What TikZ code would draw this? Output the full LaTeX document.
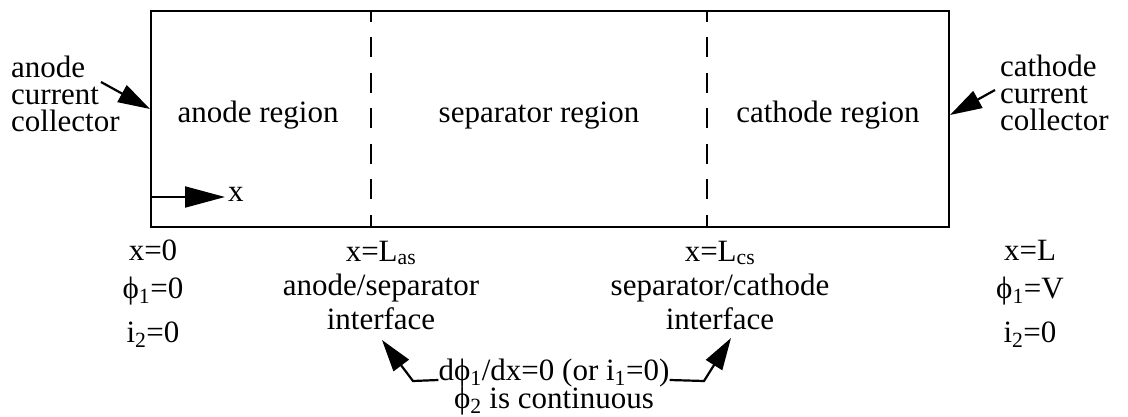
\documentclass[tikz,border=0pt]{standalone}
\usepackage{fontspec}
\setmainfont{Liberation Serif}
\usetikzlibrary{arrows.meta}

\begin{document}
\begin{tikzpicture}[x=1pt, y=-1pt,
  every node/.style={font=\fontsize{31}{27}\selectfont, inner sep=0pt},
  wall/.style={draw, line width=2pt},
  divider/.style={line width=2pt, dash pattern=on 20pt off 15.5pt, dash phase=9pt},
  pointer/.style={line width=2.2pt, -{Triangle[length=32pt,width=19pt]}},
  txt/.style={anchor=base}]

\useasboundingbox (0,0) rectangle (1128,417);

% Cell
\node[wall, minimum width=798pt, minimum height=216pt] (cell) at (550,119) {};

% Interfaces
\draw[divider] (371,11) -- (371,227);
\draw[divider] (707,11) -- (707,227);

% Regions
\node[txt] (anode) at (258,123) {anode region};
\node[txt] (sep) at (539,123) {separator region};
\node[txt] (cathode) at (828,123) {cathode region};

% x axis
\node[anchor=base west] (xlab) at (228,202) {x};
\coordinate (origin) at (151,197);
\draw[line width=2pt, -{Triangle[length=40pt,width=21pt]}, shorten >=3pt] (origin) -- (origin -| xlab.west);

% Current collectors
\node[anchor=north west, align=left] (acc) at (11,56) {anode\\current\\collector};
\node[anchor=north west, align=left] (ccc) at (1000,55) {cathode\\current\\collector};
\coordinate (acctail) at (101,82);
\coordinate (ccctail) at (995,90);
\draw[pointer] (acctail) -- ([yshift=10pt]cell.west);
\draw[pointer] (ccctail) -- ([yshift=4pt]cell.east);

% Boundary at x=0
\node[txt] (x0) at (153,260) {x=0};
\node[txt] (phi0) at (153,298) {ϕ\textsubscript{1}=0};
\node[txt] (i0) at (153,342) {i\textsubscript{2}=0};

% Anode/separator interface
\node[txt] (xlas) at (381,261) {x=L\textsubscript{as}};
\node[txt] (asname) at (381,295) {anode/separator};
\node[txt] (asint) at (381,329) {interface};

% Separator/cathode interface
\node[txt] (xlcs) at (720,261) {x=L\textsubscript{cs}};
\node[txt] (csname) at (720,295) {separator/cathode};
\node[txt] (csint) at (720,329) {interface};

% Boundary at x=L
\node[txt] (xl) at (1030,260) {x=L};
\node[txt] (phiv) at (1030,298) {ϕ\textsubscript{1}=V};
\node[txt] (il) at (1030,342) {i\textsubscript{2}=0};

% Interface conditions
\node[txt] (flux) at (554,380) {dϕ\textsubscript{1}/dx=0 (or i\textsubscript{1}=0)};
\node[txt] (cont) at (554,408) {ϕ\textsubscript{2} is continuous};
\coordinate (lbend) at (413,381);
\coordinate (ltip) at (382,340);
\coordinate (rbend) at (704,381);
\coordinate (rtip) at (731,338);
\draw[pointer] (flux.base west) -- (lbend) -- (ltip);
\draw[pointer] (flux.base east) -- (rbend) -- (rtip);

\end{tikzpicture}
\end{document}
